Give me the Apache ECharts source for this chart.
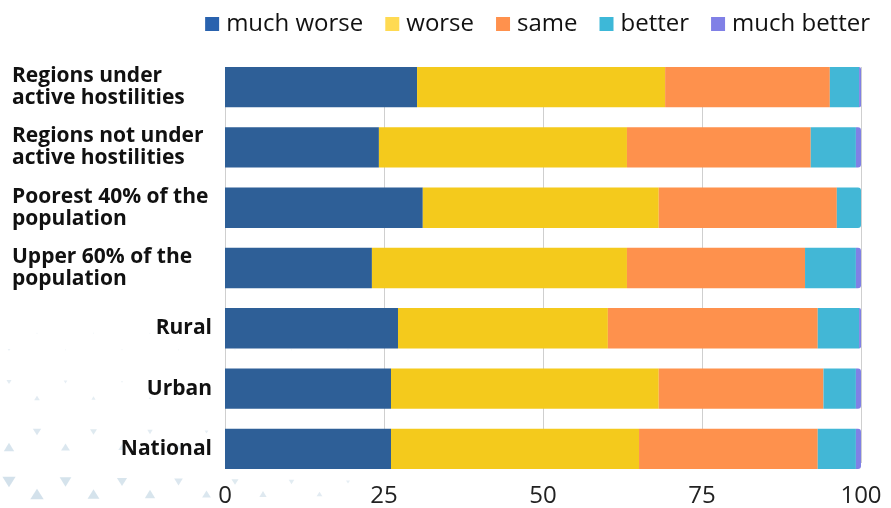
<!DOCTYPE html>
<html>
<head>
<meta charset="utf-8">
<script src="https://cdn.jsdelivr.net/npm/echarts@6/dist/echarts.min.js"></script>
<style>
html,body{margin:0;padding:0;background:#fff;}
#chart{width:891px;height:508px;}
</style>
</head>
<body>
<div id="chart"></div>
<script>
// ---- data ----
var categories = [
  'Regions under\nactive hostilities',
  'Regions not under\nactive hostilities',
  'Poorest 40% of the\npopulation',
  'Upper 60% of the\npopulation',
  'Rural',
  'Urban',
  'National'
];
var seriesNames = ['much worse', 'worse', 'same', 'better', 'much better'];
var muchWorse  = [30.2, 24.2, 31.1, 23.1, 27.2, 26.1, 26.1];
var worse      = [39.0, 39.0, 37.1, 40.1, 33.0, 42.1, 39.0];
var same       = [25.9, 28.9, 28.0, 28.0, 33.0, 25.9, 28.1];
var better     = [4.6, 7.1, 3.8, 8.0, 6.5, 5.1, 6.0];
var muchBetter = [0.3, 0.8, 0.0, 0.8, 0.3, 0.8, 0.8];
var xTicks = [0, 25, 50, 75, 100];

// ---- styles ----
var barColors = ['#2E5F97', '#F4CA1C', '#FE914D', '#42B7D6', '#8080E5'];
var legendColors = ['#2962AE', '#FFDA52', '#FF914D', '#3DB8D8', '#8080E6'];
var FONT = '"Open Sans", "Noto Sans", sans-serif';

var values = [muchWorse, worse, same, better, muchBetter];

function lastIndex(row) {
  var last = 0;
  for (var s = 0; s < values.length; s++) { if (values[s][row] > 0) last = s; }
  return last;
}

var series = seriesNames.map(function (name, s) {
  return {
    name: name,
    type: 'bar',
    stack: 'total',
    xAxisIndex: 0,
    yAxisIndex: 0,
    barCategoryGap: '33%',
    itemStyle: { color: barColors[s] },
    emphasis: { disabled: true },
    data: values[s].map(function (v, r) {
      var item = { value: v };
      if (lastIndex(r) === s) item.itemStyle = { borderRadius: [0, 3, 3, 0] };
      return item;
    })
  };
});

// decorative triangle pattern (bottom-left corner)
var deco = [];
(function () {
  var rows = [
    { y: 333, off: 1, down: false }, { y: 350, off: 0, down: true },
    { y: 382, off: 0, down: true }, { y: 398, off: 1, down: false },
    { y: 432, off: 1, down: true }, { y: 447, off: 0, down: false },
    { y: 482, off: 0, down: true }, { y: 494, off: 1, down: false }
  ];
  rows.forEach(function (rw) {
    for (var k = 0; k < 8; k++) {
      var x = 9 + rw.off * 28 + k * 56.5;
      var size = 15.5 - 0.08 * (508 - rw.y) - 0.027 * x;
      if (size < 1.5) size = 1.5;
      if (x > 360) continue;
      var h = size * 0.8;
      var pts = rw.down
        ? [[x - size / 2, rw.y - h / 2], [x + size / 2, rw.y - h / 2], [x, rw.y + h / 2]]
        : [[x - size / 2, rw.y + h / 2], [x + size / 2, rw.y + h / 2], [x, rw.y - h / 2]];
      deco.push({
        type: 'polygon',
        silent: true,
        z: -10,
        shape: { points: pts },
        style: { fill: 'rgba(200,218,230,' + Math.min(0.8, 0.3 + size * 0.04).toFixed(2) + ')' }
      });
    }
  });
})();

var chart = echarts.init(document.getElementById('chart'), null, { renderer: 'canvas' });
chart.setOption({
  backgroundColor: '#ffffff',
  animation: false,
  textStyle: { fontFamily: FONT },
  graphic: deco,
  legend: {
    right: 16,
    top: 7,
    itemWidth: 14,
    itemHeight: 14,
    itemGap: 22,
    icon: 'rect',
    selectedMode: false,
    textStyle: { fontFamily: FONT, fontSize: 24, color: '#111', padding: [0, 0, 0, 2] },
    data: seriesNames.map(function (n, i) {
      return { name: n, itemStyle: { color: legendColors[i] } };
    })
  },
  grid: [
    { left: 225, right: 30, top: 57, height: 422, containLabel: false },
    { left: 225, right: 30, top: 67, height: 402, containLabel: false }
  ],
  xAxis: [
    {
      type: 'value', gridIndex: 0, min: 0, max: 100, interval: 25,
      show: false, splitLine: { show: false }
    },
    {
      type: 'value', gridIndex: 1, min: 0, max: 100, interval: 25,
      axisLine: { show: false }, axisTick: { show: false },
      splitLine: { show: true, lineStyle: { color: '#cfcfcf', width: 1 } },
      axisLabel: {
        margin: 21, fontSize: 24, color: '#222', fontFamily: FONT,
        formatter: function (v) { return xTicks.indexOf(v) >= 0 ? String(v) : ''; }
      }
    }
  ],
  yAxis: [
    {
      type: 'category', gridIndex: 0, inverse: true, data: categories,
      axisLine: { show: false }, axisTick: { show: false },
      splitLine: { show: false },
      axisLabel: {
        align: 'left',
        margin: 213,
        fontFamily: FONT,
        fontWeight: 'bold',
        fontSize: 21,
        lineHeight: 22,
        color: '#111',
        formatter: function (v) {
          var lines = v.split('\n');
          if (lines.length > 1) {
            return lines.map(function (l) { return '{l|' + l + '}'; }).join('\n');
          }
          return '{r|' + v + '}';
        },
        rich: {
          l: { width: 200, align: 'left', fontWeight: 'bold', fontSize: 21, lineHeight: 22, color: '#111', fontFamily: FONT },
          r: { width: 200, align: 'right', fontWeight: 'bold', fontSize: 21, lineHeight: 22, color: '#111', fontFamily: FONT }
        }
      }
    },
    { type: 'value', gridIndex: 1, show: false, min: 0, max: 1 }
  ],
  series: series
});
</script>
</body>
</html>
